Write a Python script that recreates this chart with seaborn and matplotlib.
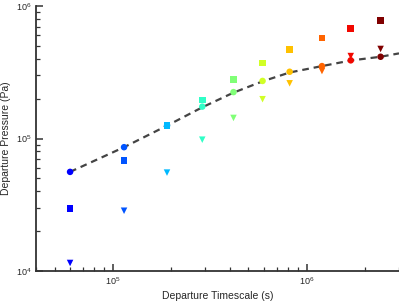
import matplotlib

matplotlib.use("Agg")
import matplotlib.pyplot as plt
import numpy as np
import pandas as pd
import seaborn as sns
from matplotlib.ticker import LogLocator, LogFormatterMathtext

# departure timescale (s) for each run
timescale = [6.0e4, 1.14e5, 1.9e5, 2.89e5, 4.19e5, 5.92e5, 8.17e5, 1.2e6, 1.69e6, 2.41e6]
# departure pressure (Pa) for the three marker groups
p_circle = [5.6e4, 8.6e4, 1.25e5, 1.74e5, 2.24e5, 2.72e5, 3.19e5, 3.52e5, 3.89e5, 4.14e5]
p_square = [2.97e4, 6.84e4, 1.25e5, 1.96e5, 2.8e5, 3.73e5, 4.7e5, 5.74e5, 6.75e5, 7.78e5]
p_triangle = [1.15e4, 2.85e4, 5.53e4, 9.8e4, 1.43e5, 1.98e5, 2.61e5, 3.23e5, 4.19e5, 4.74e5]

# dashed fit curve
curve_t = [6.0e4, 1.14e5, 1.9e5, 2.89e5, 4.19e5, 5.92e5, 8.17e5, 1.2e6, 1.69e6, 2.41e6, 3.0e6]
curve_p = [5.6e4, 8.6e4, 1.25e5, 1.72e5, 2.22e5, 2.7e5, 3.15e5, 3.52e5, 3.88e5, 4.14e5, 4.39e5]

sns.set_style("ticks")
plt.rcParams["font.family"] = ["Liberation Sans", "DejaVu Sans"]
plt.rcParams["mathtext.fontset"] = "custom"
plt.rcParams["mathtext.rm"] = "Liberation Sans"

idx = list(range(len(timescale)))
colors = [plt.cm.jet(v) for v in np.linspace(0.11, 1.0, len(timescale))]

df = pd.DataFrame({"t": timescale, "circle": p_circle, "square": p_square,
                   "triangle": p_triangle, "run": idx})

fig = plt.figure(figsize=(3.99, 3.02), dpi=100)
ax = fig.add_axes([0.0902, 0.1026, 0.9098, 0.8775])

sns.lineplot(x=curve_t, y=curve_p, ax=ax, color="#444444", lw=1.6,
             linestyle=(0, (3, 2.2)), zorder=2)

for col, mk in [("square", "s"), ("triangle", "v"), ("circle", "o")]:
    sns.scatterplot(data=df, x="t", y=col, hue="run", palette=colors, marker=mk,
                    s=22, linewidth=0, legend=False, ax=ax, zorder=3)

ax.set_xscale("log")
ax.set_yscale("log")
ax.set_xlim(4e4, 3e6)
ax.set_ylim(1e4, 1e6)

ax.xaxis.set_major_locator(LogLocator(base=10))
ax.yaxis.set_major_locator(LogLocator(base=10))
ax.xaxis.set_minor_locator(LogLocator(base=10, subs=np.arange(2, 10)))
ax.yaxis.set_minor_locator(LogLocator(base=10, subs=np.arange(2, 10)))
ax.xaxis.set_major_formatter(LogFormatterMathtext())
ax.yaxis.set_major_formatter(LogFormatterMathtext())

for s in ["top", "right"]:
    ax.spines[s].set_visible(False)
for s in ["left", "bottom"]:
    ax.spines[s].set_linewidth(1.3)
    ax.spines[s].set_color("#333333")

ax.tick_params(which="major", direction="in", length=5, width=1.1,
               labelsize=6.5, color="#333333", pad=3)
ax.tick_params(which="minor", direction="in", length=3, width=0.9,
               color="#333333")

ax.set_xlabel("Departure Timescale (s)", fontsize=7.5, labelpad=3)
ax.set_ylabel("Departure Pressure (Pa)", fontsize=7.5)
ax.yaxis.set_label_coords(-0.068, 0.5)

fig.savefig("out.png", dpi=100)
